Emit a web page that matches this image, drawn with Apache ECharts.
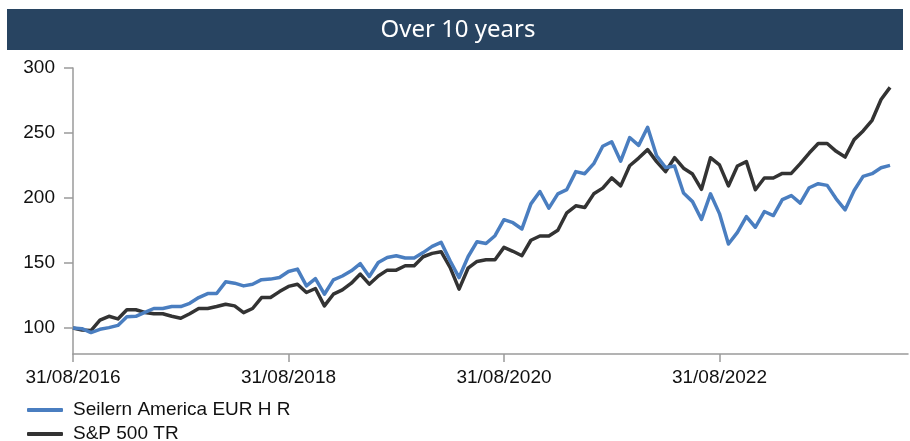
<!DOCTYPE html>
<html>
<head>
<meta charset="utf-8">
<script src="https://cdn.jsdelivr.net/npm/echarts@6/dist/echarts.min.js"></script>
<style>html,body{margin:0;padding:0;background:#fff}#c{width:910px;height:441px}</style>
</head>
<body>
<div id="c"></div>
<script>
// Month-end dates from 31/08/2016 (monthly observations)
const startYear = 2016, startMonth = 8, nPoints = 92;
const pad = n => (n < 10 ? '0' : '') + n;
const categories = [];
for (let i = 0; i < nPoints + 2; i++) {
  const m0 = startMonth - 1 + i;
  const y = startYear + Math.floor(m0 / 12), m = (m0 % 12) + 1;
  const d = new Date(y, m, 0).getDate();
  categories.push(pad(d) + '/' + pad(m) + '/' + y);
}
const seriesNames = ['Seilern America EUR H R', 'S&P 500 TR'];
const seilern = [100,99.5,96.5,99,100.3,102,108.7,109,112,115,115,116.5,116.5,119,123.4,126.5,
  126.5,135.5,134.5,132.4,133.7,137.2,137.6,138.8,143.5,145.3,132.4,138,126,137,140,144,
  149.5,139.6,150.4,154.3,155.6,153.8,153.8,158,162.8,165.9,151.7,138.8,154.8,166.4,165,171,
  183.3,181,176.2,195.5,205,192.2,203.2,206.5,220.3,218.7,226.4,239.8,243.3,228.3,246.5,240.5,
  254.4,232.5,223.5,224.6,203.8,197.2,183.5,203.2,188,164.6,173.6,185.7,177.5,189.6,186.5,198.8,
  201.9,196,207.9,211,209.7,199.4,190.9,205.8,216.6,218.7,223.3,225.1];
const sp500 = [100,98.5,98,106,109,107,114,114,112,111,111,109,107.5,111,115,115,
  116.5,118.3,117,111.8,115,123.4,123.4,128,132,133.7,127.3,130.4,117,126,129.3,134.5,
  141.5,133.7,140,144.5,144.5,147.9,147.9,154.8,157.4,158.7,146.6,129.9,146,151.2,152.5,152.5,
  162,159,155.6,167.5,170.8,170.8,175.2,188.6,194,192.7,203.2,207.6,215.5,209.3,224.8,230.7,
  237.2,228,220.3,231,222.9,218.4,206.7,231,225.5,209.3,224.6,228,206.3,215.4,215.4,218.9,
  218.9,226.4,234.6,241.9,241.9,235.9,231.5,244.9,251.6,259.8,275.8,285.1];
const yTicks = [100,150,200,250,300];
const titleText = 'Over 10 years';

const chart = echarts.init(document.getElementById('c'), null, {renderer: 'canvas'});
const axisColor = '#9a9a9a';
const font = 'Liberation Sans, Arial, sans-serif';
const legendBase = {
  orient: 'vertical', left: 22, itemGap: 4,
  itemWidth: 36, itemHeight: 4, icon: 'roundRect',
  textStyle: {color: '#111', fontFamily: font, fontSize: 19, lineHeight: 20, padding: [0,0,0,5]}
};
chart.setOption({
  animation: false,
  backgroundColor: '#ffffff',
  graphic: [
    {type: 'rect', left: 7, top: 9, shape: {width: 896, height: 41}, style: {fill: '#284461'}, silent: true},
    {type: 'text', x: 458, y: 30, style: {text: titleText, fill: '#ffffff', font: '24px "Noto Sans", sans-serif', align: 'center', verticalAlign: 'middle'}, silent: true}
  ],
  grid: {left: 73, top: 68, right: 2, bottom: 87, containLabel: false},
  xAxis: {
    type: 'category', data: categories, boundaryGap: false,
    axisLine: {lineStyle: {color: axisColor, width: 1.5}},
    axisTick: {interval: 23, length: 8, lineStyle: {color: axisColor, width: 1.5}},
    axisLabel: {interval: 23, color: '#111', fontFamily: font, fontSize: 19, margin: 14},
    splitLine: {show: false}
  },
  yAxis: {
    type: 'value', min: 80, max: 300,
    axisLine: {show: true, lineStyle: {color: axisColor, width: 1.5}},
    axisTick: {show: true, customValues: yTicks, length: 9, lineStyle: {color: axisColor, width: 1.5}},
    axisLabel: {customValues: yTicks, color: '#111', fontFamily: font, fontSize: 19, margin: 18},
    splitLine: {show: false}
  },
  legend: [
    Object.assign({}, legendBase, {top: 395, data: [seriesNames[0]]}),
    Object.assign({}, legendBase, {top: 419, data: [seriesNames[1]]})
  ],
  series: [
    {name: seriesNames[0], type: 'line', data: seilern, showSymbol: false, symbol: 'none',
     lineStyle: {color: '#4a7ec0', width: 3.5, join: 'round'}, itemStyle: {color: '#4a7ec0'}, z: 3},
    {name: seriesNames[1], type: 'line', data: sp500, showSymbol: false, symbol: 'none',
     lineStyle: {color: '#333333', width: 3.5, join: 'round'}, itemStyle: {color: '#333333'}, z: 2}
  ]
});
</script>
</body>
</html>
